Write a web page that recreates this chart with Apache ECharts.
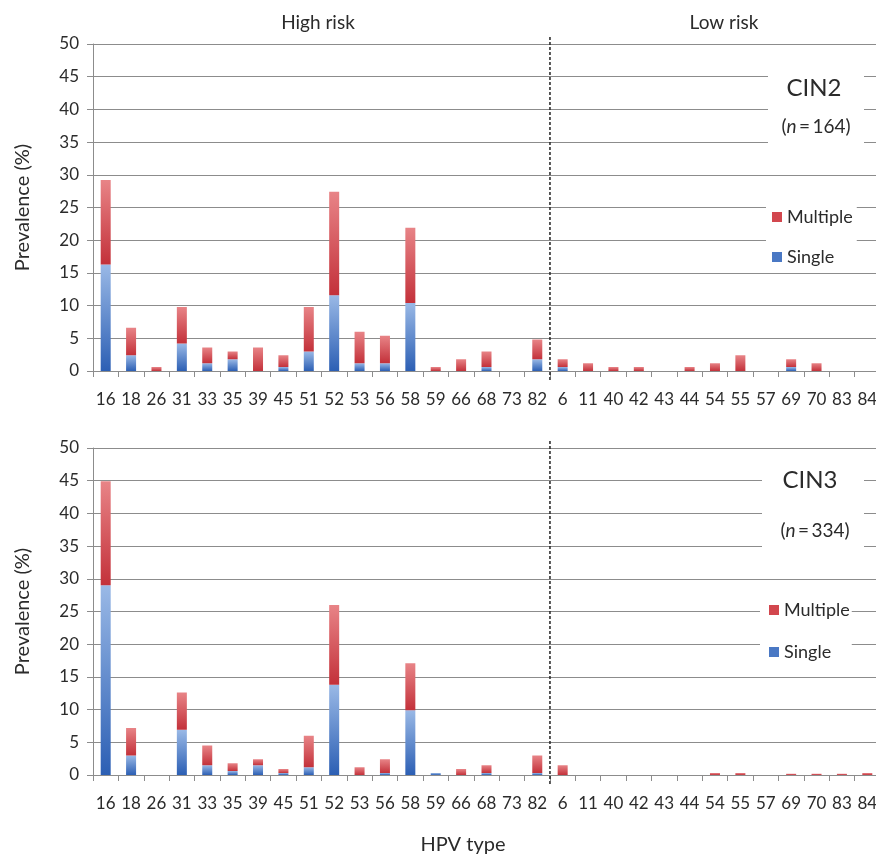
<!DOCTYPE html>
<html>
<head>
<meta charset="utf-8">
<script src="https://cdn.jsdelivr.net/npm/echarts@6/dist/echarts.min.js"></script>
<style>
html, body { margin: 0; padding: 0; background: #fff; }
#chart { width: 876px; height: 858px; }
</style>
</head>
<body>
<div id="chart"></div>
<script>
// HPV types, high risk first then low risk
const hpvTypes = ['16','18','26','31','33','35','39','45','51','52','53','56','58','59','66','68','73','82',
  '6','11','40','42','43','44','54','55','57','69','70','83','84'];

// CIN2 (n=164), prevalence %
const cin2Single   = [16.3, 2.4, 0, 4.2, 1.2, 1.8, 0, 0.6, 3.0, 11.6, 1.2, 1.2, 10.4, 0, 0, 0.6, 0, 1.8,
  0.6, 0, 0, 0, 0, 0, 0, 0, 0, 0.6, 0, 0, 0];
const cin2Multiple = [12.9, 4.2, 0.6, 5.6, 2.4, 1.2, 3.6, 1.8, 6.8, 15.8, 4.8, 4.2, 11.5, 0.6, 1.8, 2.4, 0, 3.0,
  1.2, 1.2, 0.6, 0.6, 0, 0.6, 1.2, 2.4, 0, 1.2, 1.2, 0, 0];

// CIN3 (n=334), prevalence %
const cin3Single   = [29.0, 3.0, 0, 6.9, 1.5, 0.6, 1.5, 0.3, 1.2, 13.8, 0, 0.3, 9.9, 0.3, 0, 0.3, 0, 0.3,
  0, 0, 0, 0, 0, 0, 0, 0, 0, 0, 0, 0, 0];
const cin3Multiple = [15.9, 4.2, 0, 5.7, 3.0, 1.2, 0.9, 0.6, 4.8, 12.2, 1.2, 2.1, 7.2, 0, 0.9, 1.2, 0, 2.7,
  1.5, 0, 0, 0, 0, 0, 0.3, 0.3, 0, 0.2, 0.2, 0.2, 0.3];

const yTicks = { min: 0, max: 50, interval: 5 };

const FONT = 'Lato';
const myChart = echarts.init(document.getElementById('chart'));

const blueGrad = new echarts.graphic.LinearGradient(0, 0, 0, 1, [
  { offset: 0, color: '#9ab9e6' }, { offset: 1, color: '#2c5fb4' }]);
const redGrad = new echarts.graphic.LinearGradient(0, 0, 0, 1, [
  { offset: 0, color: '#e88487' }, { offset: 1, color: '#c3313a' }]);

const gridColor = '#8c8c8c';

const makeX = (idx) => ({
  type: 'category',
  gridIndex: idx,
  data: hpvTypes,
  axisLine: { show: true, lineStyle: { color: gridColor } },
  axisTick: { show: true, interval: 0, length: 6, lineStyle: { color: gridColor } },
  axisLabel: { interval: 0, margin: 20, fontSize: 17, fontFamily: FONT, color: '#2b2b2b' },
  splitLine: { show: false }
});

const makeY = (idx) => ({
  type: 'value',
  gridIndex: idx,
  min: yTicks.min,
  max: yTicks.max,
  interval: yTicks.interval,
  name: 'Prevalence (%)',
  nameLocation: 'middle',
  nameGap: 60,
  nameTextStyle: { fontSize: 20, fontFamily: FONT, color: '#2b2b2b' },
  axisLine: { show: true, lineStyle: { color: gridColor } },
  axisTick: { show: true, length: 6, lineStyle: { color: gridColor } },
  axisLabel: { margin: 14, fontSize: 17, fontFamily: FONT, color: '#2b2b2b' },
  splitLine: { show: true, lineStyle: { color: gridColor, width: 1 } }
});

const makeBars = (idx, single, multiple) => [
  {
    name: 'Single', type: 'bar', stack: 's' + idx,
    xAxisIndex: idx, yAxisIndex: idx,
    barWidth: 10, data: single,
    itemStyle: { color: blueGrad }
  },
  {
    name: 'Multiple', type: 'bar', stack: 's' + idx,
    xAxisIndex: idx, yAxisIndex: idx,
    barWidth: 10, data: multiple,
    itemStyle: { color: redGrad }
  }
];

const legendBase = {
  orient: 'vertical',
  data: [
    { name: 'Multiple', itemStyle: { color: '#d2474e' } },
    { name: 'Single', itemStyle: { color: '#4a78c4' } }
  ],
  icon: 'rect',
  itemWidth: 10,
  itemHeight: 10,
  backgroundColor: '#fff',
  textStyle: { fontSize: 18, fontFamily: FONT, color: '#2b2b2b' },
  selectedMode: false
};

let option = {
  animation: false,
  grid: [
    { left: 93, top: 44, width: 787, height: 327, outerBoundsMode: 'none' },
    { left: 93, top: 448, width: 787, height: 327, outerBoundsMode: 'none' }
  ],
  xAxis: [makeX(0), makeX(1)],
  yAxis: [makeY(0), makeY(1)],
  legend: [
    Object.assign({}, legendBase, { left: 766, top: 203, itemGap: 22, padding: [5, 4, 5, 6] }),
    Object.assign({}, legendBase, { left: 760, top: 596, itemGap: 24, padding: [5, 2, 5, 9] })
  ],
  series: [].concat(makeBars(0, cin2Single, cin2Multiple), makeBars(1, cin3Single, cin3Multiple))
};
myChart.setOption(option);

// separator between high and low risk types, placed between '82' and '6'
const sepX = (myChart.convertToPixel({ xAxisIndex: 0 }, '82') + myChart.convertToPixel({ xAxisIndex: 0 }, '6')) / 2;
const sepLine = (idx) => {
  const yTop = myChart.convertToPixel({ yAxisIndex: idx }, yTicks.max);
  const yBot = myChart.convertToPixel({ yAxisIndex: idx }, yTicks.min);
  return {
    type: 'line', z: 50,
    shape: { x1: sepX, y1: yTop - 7, x2: sepX, y2: yBot + 9 },
    style: { stroke: '#222', lineWidth: 1.5, lineDash: [3, 2] }
  };
};

const txt = (x, y, text, size, extra) => ({
  type: 'text', z: 60, x: x, y: y,
  style: Object.assign({
    text: text, fontSize: size, fontFamily: FONT, fill: '#2b2b2b',
    align: 'center', verticalAlign: 'middle'
  }, extra || {})
});
const box = (x, y, w, h) => ({
  type: 'rect', z: 55, shape: { x: x, y: y, width: w, height: h }, style: { fill: '#fff' }
});
const italicN = { rich: { it: { fontStyle: 'italic', fontSize: 19, fontFamily: FONT, fill: '#2b2b2b' } } };

myChart.setOption({
  graphic: {
    elements: [
      sepLine(0),
      sepLine(1),
      txt(318, 23, 'High risk', 19),
      txt(724, 23, 'Low risk', 19),
      txt(463, 845, 'HPV type', 20),
      box(768, 66, 96, 82),
      txt(814, 88, 'CIN2', 24),
      txt(816, 127, '({it|n}\u2009=\u2009164)', 19, italicN),
      box(762, 462, 102, 92),
      txt(810, 480, 'CIN3', 24),
      txt(815, 531, '({it|n}\u2009=\u2009334)', 19, italicN)
    ]
  }
});
</script>
</body>
</html>
